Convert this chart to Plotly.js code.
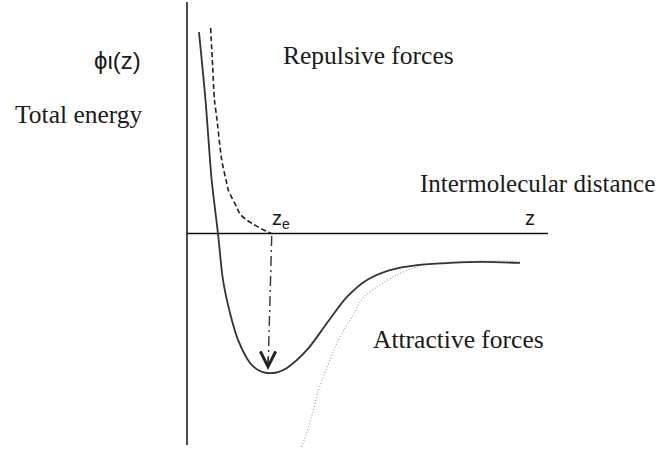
<!DOCTYPE html>
<html>
<head>
<meta charset="utf-8">
<script src="https://cdn.plot.ly/plotly-3.0.1.min.js"></script>
<style>
  html, body { margin: 0; padding: 0; background: #fff; }
  #chart { width: 660px; height: 450px; }
</style>
</head>
<body>
<div id="chart"></div>
<script>
// Distance in units of the equilibrium separation z_e, energy in units of the well depth.

// Total interaction energy (solid curve)
const totalZ   = [0.142, 0.219, 0.292, 0.367, 0.426, 0.509, 0.604, 0.746, 0.840, 0.947, 1.077, 1.183, 1.420, 1.657, 1.893, 2.130, 2.402, 2.722, 3.112, 3.503, 3.941];
const totalPhi = [1.444, 0.958, 0.384, 0.000, -0.333, -0.570, -0.763, -0.928, -0.978, -1.000, -0.993, -0.964, -0.835, -0.642, -0.455, -0.333, -0.262, -0.226, -0.211, -0.204, -0.211];

// Repulsive contribution (dashed curve), vanishing at z_e
const repZ   = [0.280, 0.304, 0.325, 0.351, 0.411, 0.470, 0.489, 0.588, 0.627, 0.707, 0.781, 0.864, 0.935, 1.000];
const repPhi = [1.473, 1.194, 0.957, 0.837, 0.527, 0.362, 0.312, 0.190, 0.140, 0.097, 0.068, 0.039, 0.018, 0.000];

// Attractive contribution (grey dotted curve)
const attZ   = [1.355, 1.417, 1.495, 1.550, 1.613, 1.692, 1.775, 1.870, 1.953, 2.047, 2.107, 2.245, 2.482, 2.718, 2.911, 3.172, 3.527, 3.941];
const attPhi = [-1.530, -1.430, -1.265, -1.136, -1.029, -0.907, -0.785, -0.677, -0.599, -0.491, -0.448, -0.384, -0.297, -0.240, -0.215, -0.204, -0.197, -0.197];

// Drop line from z_e down to the bottom of the well
const dropZ   = [1.003, 0.959];
const dropPhi = [-0.018, -0.978];

// Coordinate axes
const axisZEnd   = 4.272;
const axisPhiTop = 1.659;
const axisPhiBot = -1.516;

// Labels
const labelPhi     = 'ϕι(z)';
const labelEnergy  = 'Total energy';
const labelRep     = 'Repulsive forces';
const labelDist    = 'Intermolecular distance';
const labelZ       = 'z';
const labelZe      = 'z<sub>e</sub>';
const labelAtt     = 'Attractive forces';

const W = 660, H = 450;
const px = x => x / W;
const py = y => 1 - y / H;

const serif = { family: 'Liberation Serif, Times New Roman, serif', size: 25.5, color: '#1a1a1a' };
const serifDist = Object.assign({}, serif, { size: 25 });
const sans  = { family: 'Liberation Sans, Arial, sans-serif', size: 20, color: '#1a1a1a' };
const sansBig = { family: 'Liberation Sans, Arial, sans-serif', size: 24, color: '#1a1a1a' };

const traces = [
  { x: [0, axisZEnd], y: [0, 0], mode: 'lines', line: { color: '#111', width: 1.5 }, hoverinfo: 'skip' },
  { x: [0, 0], y: [axisPhiTop, axisPhiBot], mode: 'lines', line: { color: '#111', width: 1.5 }, hoverinfo: 'skip' },
  { x: attZ, y: attPhi, mode: 'lines', line: { color: '#9a9a9a', width: 1.1, dash: '1px,2px', shape: 'spline', smoothing: 0.8 }, hoverinfo: 'skip' },
  { x: repZ, y: repPhi, mode: 'lines', line: { color: '#222', width: 1.6, dash: '5px,3px', shape: 'spline', smoothing: 0.8 }, hoverinfo: 'skip' },
  { x: dropZ, y: dropPhi, mode: 'lines', line: { color: '#333', width: 1.4, dash: '10px,4px,2px,4px' }, hoverinfo: 'skip' },
  { x: totalZ, y: totalPhi, mode: 'lines', line: { color: '#333', width: 1.8, shape: 'spline', smoothing: 0.8 }, hoverinfo: 'skip' }
];

const annotations = [
  { xref: 'paper', yref: 'paper', x: px(117), y: py(61), text: labelPhi, showarrow: false, font: sansBig, xanchor: 'center', yanchor: 'middle' },
  { xref: 'paper', yref: 'paper', x: px(13), y: py(115), text: labelEnergy, showarrow: false, font: serif, xanchor: 'left', yanchor: 'middle' },
  { xref: 'paper', yref: 'paper', x: px(281), y: py(55), text: labelRep, showarrow: false, font: serif, xanchor: 'left', yanchor: 'middle' },
  { xref: 'paper', yref: 'paper', x: px(418), y: py(183), text: labelDist, showarrow: false, font: serifDist, xanchor: 'left', yanchor: 'middle' },
  { xref: 'paper', yref: 'paper', x: px(530), y: py(218), text: labelZ, showarrow: false, font: sans, xanchor: 'center', yanchor: 'middle' },
  { xref: 'paper', yref: 'paper', x: px(281), y: py(219), text: labelZe, showarrow: false, font: sans, xanchor: 'center', yanchor: 'middle' },
  { xref: 'paper', yref: 'paper', x: px(371), y: py(339), text: labelAtt, showarrow: false, font: serif, xanchor: 'left', yanchor: 'middle' },
  // open arrowhead at the bottom of the drop line
  { xref: 'x', yref: 'y', x: dropZ[1], y: dropPhi[1], ax: 0, ay: -14, text: '', showarrow: true,
    arrowhead: 5, arrowsize: 3, arrowwidth: 1, arrowcolor: '#222', standoff: 0 }
];

const layout = {
  width: W, height: H,
  margin: { l: 0, r: 0, t: 0, b: 0 },
  paper_bgcolor: '#fff', plot_bgcolor: '#fff',
  showlegend: false,
  xaxis: { range: [-2.213, 5.598], visible: false, fixedrange: true },
  yaxis: { range: [-1.552, 1.6738], visible: false, fixedrange: true },
  annotations: annotations
};

Plotly.newPlot('chart', traces, layout, { staticPlot: true, displayModeBar: false });
</script>
</body>
</html>
